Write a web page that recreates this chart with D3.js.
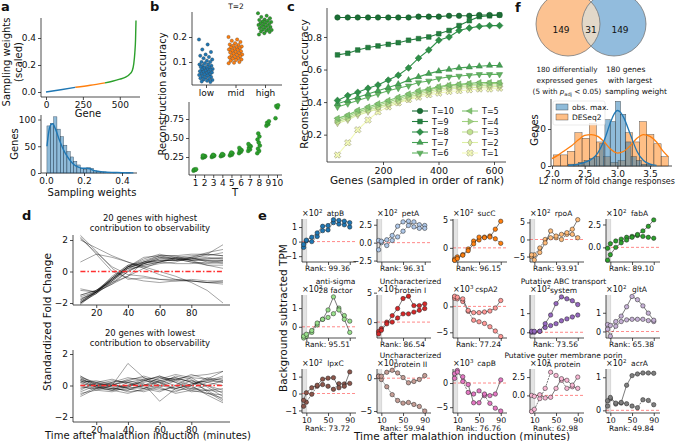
<!DOCTYPE html>
<html>
<head>
<meta charset="utf-8">
<script src="https://cdn.jsdelivr.net/npm/d3@7"></script>
<style>
body { margin: 0; background: #fff; }
svg { font-family: "DejaVu Sans", sans-serif; }
</style>
</head>
<body>
<svg id="fig" width="681" height="441"></svg>
<script>
// ---------- data: panel a ----------
var aGene = [0, 100, 200, 300, 400, 450, 500, 540, 565, 585, 595, 602, 607, 610];
var aWeight = [0, 0.017, 0.035, 0.05, 0.068, 0.08, 0.095, 0.11, 0.13, 0.16, 0.21, 0.29, 0.39, 0.53];
var aBinStart = 0.005, aBinW = 0.0175;
var aHist = [88, 92, 105, 82, 68, 52, 40, 30, 22, 15, 9, 7, 10, 9, 4, 3, 2, 2, 1, 1, 1, 0, 1, 0, 1];
var aKdeX = [0.005, 0.015, 0.025, 0.035, 0.05, 0.07, 0.09, 0.11, 0.13, 0.15, 0.17, 0.19, 0.21, 0.23, 0.25, 0.28, 0.32, 0.36, 0.40, 0.46];
var aKdeY = [50, 78, 90, 92, 82, 62, 45, 32, 22, 15, 11, 9, 9, 8, 5, 3, 1.5, 1, 0.5, 0.3];

// ---------- data: panel b ----------
var bCats = ["low", "mid", "high"];
var bLow = [0.19, 0.17, 0.15, 0.14, 0.13, 0.125, 0.12, 0.115, 0.11, 0.105, 0.10, 0.10, 0.095, 0.09, 0.09, 0.085, 0.085, 0.08, 0.08, 0.078, 0.075, 0.072, 0.07, 0.07, 0.068, 0.065, 0.063, 0.06, 0.06, 0.058, 0.055, 0.053, 0.05, 0.05, 0.048, 0.045, 0.042, 0.04, 0.038, 0.035, 0.032, 0.03, 0.028, 0.025, 0.022, 0.02];
var bMid = [0.20, 0.19, 0.185, 0.18, 0.175, 0.17, 0.168, 0.165, 0.162, 0.16, 0.158, 0.155, 0.152, 0.15, 0.148, 0.145, 0.143, 0.14, 0.138, 0.135, 0.133, 0.13, 0.128, 0.125, 0.123, 0.12, 0.118, 0.115, 0.113, 0.11, 0.108, 0.105, 0.10, 0.097, 0.095];
var bHigh = [0.295, 0.285, 0.28, 0.275, 0.27, 0.268, 0.265, 0.262, 0.26, 0.258, 0.255, 0.252, 0.25, 0.248, 0.245, 0.243, 0.24, 0.238, 0.235, 0.232, 0.23, 0.228, 0.225, 0.222, 0.22, 0.215, 0.21];
var bT = [1, 2, 3, 4, 5, 6, 7, 8, 9, 10];
var bAcc = [
  [0.07, 0.08, 0.085, 0.09],
  [0.24, 0.25, 0.255, 0.26, 0.265, 0.27],
  [0.25, 0.26, 0.265, 0.27, 0.28],
  [0.26, 0.27, 0.275, 0.28, 0.29],
  [0.27, 0.28, 0.29, 0.30, 0.31],
  [0.30, 0.32, 0.33, 0.34, 0.35, 0.37],
  [0.33, 0.35, 0.37, 0.39, 0.40, 0.42],
  [0.30, 0.33, 0.36, 0.40, 0.44, 0.48, 0.52, 0.56],
  [0.66, 0.68, 0.70, 0.72],
  [0.76, 0.90, 0.92, 0.93]
];

// ---------- data: panel c ----------
var cGenes = [36, 73, 109, 146, 182, 219, 255, 292, 328, 365, 401, 438, 474, 511, 547, 584, 620];
var cT10 = [0.92, 0.92, 0.92, 0.92, 0.92, 0.92, 0.92, 0.92, 0.925, 0.925, 0.925, 0.93, 0.93, 0.93, 0.935, 0.935, 0.935];
var cT9 = [0.69, 0.70, 0.72, 0.735, 0.745, 0.755, 0.765, 0.78, 0.79, 0.80, 0.82, 0.84, 0.87, 0.90, 0.925, 0.93, 0.935];
var cT8 = [0.41, 0.44, 0.46, 0.485, 0.505, 0.535, 0.565, 0.61, 0.67, 0.72, 0.78, 0.80, 0.84, 0.855, 0.865, 0.87, 0.87];
var cT7 = [0.39, 0.41, 0.43, 0.45, 0.47, 0.49, 0.51, 0.535, 0.555, 0.575, 0.59, 0.60, 0.61, 0.615, 0.62, 0.625, 0.625];
var cT6 = [0.37, 0.39, 0.41, 0.43, 0.45, 0.47, 0.485, 0.50, 0.52, 0.53, 0.545, 0.555, 0.56, 0.565, 0.57, 0.57, 0.57];
var cT5 = [0.30, 0.32, 0.35, 0.37, 0.39, 0.41, 0.43, 0.45, 0.47, 0.48, 0.495, 0.505, 0.51, 0.515, 0.52, 0.52, 0.52];
var cT4 = [0.29, 0.31, 0.34, 0.36, 0.38, 0.40, 0.42, 0.44, 0.46, 0.475, 0.49, 0.50, 0.505, 0.51, 0.51, 0.515, 0.515];
var cT3 = [0.28, 0.30, 0.33, 0.35, 0.37, 0.39, 0.41, 0.43, 0.45, 0.465, 0.48, 0.49, 0.495, 0.50, 0.50, 0.505, 0.505];
var cT2 = [0.27, 0.29, 0.32, 0.34, 0.36, 0.38, 0.40, 0.42, 0.44, 0.455, 0.47, 0.48, 0.485, 0.49, 0.49, 0.495, 0.495];
var cT1 = [0.075, 0.15, 0.23, 0.29, 0.34, 0.37, 0.395, 0.415, 0.43, 0.445, 0.455, 0.465, 0.47, 0.475, 0.48, 0.48, 0.485];
var cLabels = ["T=10", "T=9", "T=8", "T=7", "T=6", "T=5", "T=4", "T=3", "T=2", "T=1"];

// ---------- data: panel d ----------
var dTimes = [10, 20, 30, 40, 50, 60, 70, 80, 90, 100];
var dHigh = [
  [-2.0, -1.3, -0.4, 0.3, 0.5, 0.7, 0.7, 0.8, 0.8, 0.8],
  [-1.9, -1.3, -0.5, 0.2, 0.6, 0.9, 0.8, 0.7, 0.7, 0.6],
  [-2.0, -1.4, -0.6, 0.1, 0.4, 0.6, 0.8, 0.9, 1.0, 1.2],
  [-1.8, -1.2, -0.4, 0.3, 0.7, 1.0, 0.8, 0.6, 0.5, 0.6],
  [-2.1, -1.3, -0.3, 0.4, 0.6, 0.7, 0.7, 0.8, 0.9, 0.8],
  [-1.7, -1.4, -0.7, 0.0, 0.5, 0.8, 0.9, 0.8, 0.7, 0.7],
  [-2.0, -1.2, -0.5, 0.3, 0.8, 1.1, 0.9, 0.7, 0.8, 0.9],
  [-1.6, -1.3, -0.6, 0.2, 0.6, 0.6, 0.8, 0.9, 1.2, 1.4],
  [-2.0, -1.4, -0.4, 0.4, 0.5, 0.8, 0.7, 0.8, 1.1, 1.7],
  [-1.9, -1.3, -0.5, 0.2, 0.3, 0.5, 0.6, 0.9, 0.6, 0.5],
  [-1.2, -1.3, -0.8, 0.0, 0.5, 0.9, 0.8, 0.6, 0.4, 0.4],
  [-1.5, -1.2, -0.6, 0.3, 0.9, 1.0, 1.0, 0.7, 0.4, 0.2],
  [-1.8, -1.3, -0.5, 0.3, 0.4, 0.6, 0.9, 1.0, 1.1, 1.0],
  [-1.1, -1.3, -0.8, -0.3, 0.2, 0.6, 0.5, 0.5, 0.6, 0.7],
  [2.3, 1.3, 0.2, -0.5, -0.4, -0.5, -0.5, -0.6, -0.7, -0.7],
  [2.2, 1.1, 0.0, -0.4, -0.6, -0.7, -0.6, -0.5, -0.6, -0.6],
  [2.0, 1.5, 1.0, 0.6, 0.3, 0.0, -0.3, -0.7, -1.2, -2.0],
  [0.6, 1.1, 0.9, 0.6, 0.2, -0.2, -0.5, -0.6, -0.7, -0.8],
  [2.1, 1.2, 0.3, -0.2, -0.3, -0.5, -0.6, -0.6, -0.7, -0.6],
  [-1.5, -1.2, -0.7, -0.3, 0.6, 1.0, 1.0, 1.1, 1.1, 1.0]
];
var dLow = [
  [0.6, 0.1, 0.0, 1.4, 0.5, 0.0, -0.2, 0.1, 0.3, 0.2],
  [0.4, 0.0, -0.2, -0.3, 0.1, -1.0, -0.2, 0.0, 0.5, 0.3],
  [-0.7, -0.2, 0.1, 0.2, 0.0, 0.3, 0.5, 0.2, -0.3, -0.9],
  [0.3, -0.1, -0.2, -0.3, 0.0, 0.2, 0.4, 0.3, 0.0, -0.5],
  [0.5, 0.2, 0.0, -0.1, -0.2, 0.1, 0.6, 0.4, -0.4, -1.0],
  [-0.4, 0.0, 0.2, 0.3, 0.1, -0.2, -0.4, 0.0, 0.4, 0.9],
  [0.2, -0.2, -0.3, 0.0, 0.4, 0.5, 0.2, -0.3, -0.5, -0.6],
  [-0.2, 0.1, 0.3, 0.2, -0.2, -0.4, 0.0, 0.5, 0.4, 0.4],
  [0.6, 0.0, -0.2, -0.1, 0.3, 0.6, 0.3, -0.1, -0.5, -0.8],
  [-0.5, -0.3, 0.0, 0.4, 0.5, 0.2, -0.2, 0.1, 0.3, 0.6],
  [0.1, 0.0, 0.1, -0.2, -0.4, -0.1, 0.3, 0.7, 0.4, 0.2],
  [0.3, -0.1, -0.3, -0.5, -0.2, 0.3, 0.5, 0.2, 0.0, -0.3],
  [-0.3, 0.2, 0.4, 0.1, -0.1, -0.3, -0.1, 0.3, 0.2, 0.0],
  [0.4, 0.1, -0.1, 0.0, 0.2, 0.4, 0.7, 0.5, -0.1, -0.7],
  [-0.1, -0.2, 0.0, 0.3, 0.6, 0.3, 0.0, -0.4, -0.3, -0.2],
  [0.2, 0.3, 0.1, -0.2, 0.0, 0.5, 0.4, 0.0, -0.6, -1.1],
  [0.0, -0.3, -0.4, -0.1, 0.3, 0.2, -0.3, -0.2, 0.2, 0.5],
  [0.5, -0.1, -0.3, 0.2, 0.4, -0.1, -0.5, -0.3, 0.0, 0.3],
  [-0.6, -0.1, 0.2, 0.5, 0.3, 0.6, 0.2, -0.2, -0.3, -0.4],
  [0.3, 0.2, -0.1, -0.4, -0.3, 0.0, 0.4, 0.6, 0.7, 0.9]
];

// ---------- data: panel e ----------
var eTimes = [5, 10, 20, 30, 40, 50, 60, 70, 80, 90];
var eTitles = [["atpB"], ["petA"], ["sucC"], ["rpoA"], ["fabA"],
  ["anti-sigma", "28 factor"], ["Uncharacterized", "protein I"], ["cspA2"], ["Putative ABC transport", "system"], ["gltA"],
  ["lpxC"], ["Uncharacterized", "protein II"], ["capB"], ["Putative outer membrane porin", "A protein"], ["acrA"]];
var eRanks = ["99.36", "96.31", "96.15", "93.91", "89.10", "95.51", "86.54", "77.24", "73.56", "65.38", "73.72", "59.94", "76.76", "62.98", "49.84"];
var eExp = [2, 2, 2, 2, 2, 2, 2, 3, 2, 2, 2, 3, 3, 2, 2];
var eTicks = [[-1, 0, 1], [-2.5, 0, 2.5], [0, 5], [-5, 0, 5], [0, 2.5],
  [0, 1], [0, 5], [-5, 0], [0, 1], [0, 1],
  [-1, 0, 1], [-5, 0], [-5, 0], [0, 2.5], [0, 1]];
var eFmt = ["d", ".1f", "d", "d", ".1f", "d", "d", "d", "d", "d", "d", "d", "d", ".1f", "d"];
var eYlim = [[-1.4, 1.55], [-2.7, 3.3], [-2.5, 5.1], [-6.6, 6.0], [-1.6, 3.1],
  [-0.6, 1.7], [-2.7, 4.6], [-6.1, 2.2], [-0.3, 1.95], [-0.35, 1.95],
  [-1.15, 1.45], [-5.3, 1.4], [-6.2, 2.9], [-2.4, 3.6], [-0.08, 1.25]];
var eRepA = [
  [-0.2, 0.1, 0.3, 0.6, 1.05, 1.1, 1.5, 1.45, 1.4, 1.3],
  [-1.0, 0.2, 0.4, 1.0, 2.3, 2.9, 3.0, 2.2, 2.0, 2.0],
  [-2.2, -1.9, -1.3, -0.5, 0.7, 1.9, 1.8, 1.9, 3.3, 4.7],
  [-4.5, -6.0, -3.8, -1.0, 2.5, 1.0, 1.5, 2.0, 3.0, 5.8],
  [-1.4, -0.8, 0.0, 0.5, 0.8, 1.1, 1.4, 1.8, 2.3, 3.0],
  [-0.5, -0.4, -0.2, 0.2, 0.4, 0.9, 1.6, 0.9, 0.4, -0.3],
  [-2.0, -1.4, -0.3, 1.1, 2.3, 4.0, 4.4, 2.8, 2.8, 3.1],
  [1.96, 1.77, 1.46, -0.76, -1.2, -1.2, -1.08, -0.89, -0.32, 1.14],
  [0.05, 0.05, 0.05, 0.45, 0.9, 1.5, 1.85, 1.75, 1.65, 1.45],
  [0.37, 0.32, 0.53, 0.82, 1.32, 1.87, 1.7, 1.37, 0.98, 0.6],
  [-0.4, 0.05, 0.34, 0.49, 0.85, 0.91, 0.94, 0.34, 0.43, 1.28],
  [0.3, 0.3, 0.9, 1.2, 0.8, 0.1, -0.7, -0.5, -0.2, 0.4],
  [1.95, 2.27, 1.3, -0.32, -4.08, -4.08, -2.27, -2.6, -2.27, 0.65],
  [0.0, -0.13, 0.09, -0.35, -0.26, 0.96, 2.28, 2.06, 1.4, 2.5],
  [0.29, 0.39, 0.22, 0.24, 0.76, 1.05, 1.1, 1.13, 1.13, 1.12]
];
var eRepB = [
  [-0.4, 0.05, 0.0, 0.35, 0.75, 0.8, 1.3, 1.2, 1.15, 1.0],
  [0.3, 0.0, -0.4, 0.3, 0.8, 1.6, 2.4, 2.9, 2.5, 2.4],
  [-2.0, -1.6, -1.2, -0.2, 1.2, 1.4, 1.9, 2.1, 1.6, 0.8],
  [-5.0, -4.5, -2.5, 0.0, 0.5, 0.5, 0.0, 1.5, 1.5, 0.5],
  [-0.1, 0.4, 0.7, 0.9, 1.1, 1.2, 1.3, 1.2, 1.1, 1.0],
  [-0.6, -0.5, -0.3, 0.1, 0.4, 0.5, 0.7, 1.0, 0.6, 0.3],
  [-1.6, -1.1, 0.0, 0.0, 0.7, 1.4, 1.4, 1.7, 2.0, 2.3],
  [1.58, 1.46, 0.95, -0.95, -2.66, -2.97, -3.29, -3.92, -4.75, -5.82],
  [0.0, 0.0, 0.05, 0.25, 0.35, 0.45, 0.6, 0.7, 0.8, 0.9],
  [0.12, -0.25, 0.28, 0.53, 0.62, 0.65, 0.65, 0.65, 0.58, 0.53],
  [-0.75, -0.51, -0.04, 0.43, 0.53, 0.43, 0.25, 0.58, 0.57, 0.6],
  [0.3, -0.2, -1.3, -2.5, -3.4, -3.8, -3.7, -4.0, -4.3, -5.0],
  [0.97, 2.6, 0.32, -1.95, -2.27, -1.62, -2.6, -4.2, -5.2, -5.8],
  [-2.2, -1.9, -0.44, 0.96, 3.16, 2.72, 2.06, 0.96, 1.18, 0.96],
  [0.13, 0.35, 0.19, 0.22, 0.2, 0.13, 0.08, 0.32, 0.3, 0.17]
];
var eColors = ["#1f77b4", "#aec7e8", "#ff7f0e", "#ffbb78", "#2ca02c", "#98df8a", "#d62728", "#ff9896",
  "#9467bd", "#c5b0d5", "#8c564b", "#c49c94", "#e377c2", "#f7b6d2", "#7f7f7f"];

// ---------- data: panel f ----------
var fVenn = [149, 31, 149];
var fDeseqStart = 2.02, fDeseqW = 0.11;
var fDeseq = [6, 6, 8, 18, 15, 23, 13, 5, 2, 3, 18, 13, 24, 17, 12, 5];
var fObsStart = 2.25, fObsW = 0.08;
var fObs = [1, 1, 2, 3, 4, 5, 12, 25, 24, 35, 28, 13, 5, 3, 1, 1];
var fKdeDX = [2.0, 2.1, 2.2, 2.3, 2.4, 2.5, 2.6, 2.7, 2.8, 2.9, 3.0, 3.1, 3.2, 3.3, 3.4, 3.5, 3.6, 3.7, 3.78];
var fKdeD = [4, 6, 8.5, 11, 14, 16.5, 17, 16, 13, 9, 7, 8, 11, 15, 17, 16, 13, 8, 5];
var fKdeOX = [2.25, 2.4, 2.5, 2.6, 2.7, 2.8, 2.9, 2.95, 3.0, 3.05, 3.1, 3.2, 3.3, 3.4, 3.5, 3.6];
var fKdeO = [0.3, 1, 2, 3.5, 7, 14, 24, 28, 30, 29, 26, 17, 8, 3, 1, 0.3];

// ---------- helpers ----------
var svg = d3.select("#fig");
var INK = "#111";

function text(x, y, s, size, o) {
  o = o || {};
  var t = svg.append("text").attr("x", x).attr("y", y).attr("font-size", size)
    .attr("text-anchor", o.anchor || "middle").attr("fill", INK).text(s);
  if (o.rot) t.attr("transform", "rotate(" + o.rot + "," + x + "," + y + ")");
  if (o.bold) t.attr("font-weight", "bold");
  return t;
}
function spines(x0, x1, y0, y1) {
  svg.append("path").attr("d", "M" + x0 + "," + y0 + "V" + y1 + "H" + x1)
    .attr("fill", "none").attr("stroke", "#222").attr("stroke-width", 0.8);
}
function axis(orient, scale, pos, vals, fmt, size, labels) {
  var ax = orient === "left" ? d3.axisLeft(scale) : d3.axisBottom(scale);
  ax.tickValues(vals).tickSize(3).tickPadding(2);
  if (fmt) ax.tickFormat(typeof fmt === "string" ? d3.format(fmt) : fmt);
  if (labels === false) ax.tickFormat("");
  var g = svg.append("g")
    .attr("transform", orient === "left" ? "translate(" + pos + ",0)" : "translate(0," + pos + ")")
    .call(ax).attr("font-family", null).attr("font-size", size || 9);
  g.select(".domain").remove();
  g.selectAll(".tick line").attr("stroke", "#222").attr("stroke-width", 0.8);
  g.selectAll(".tick text").attr("fill", INK);
  return g;
}
function poly(n, r, a0) {
  var p = [];
  for (var i = 0; i < n; i++) {
    var a = a0 + i * 2 * Math.PI / n;
    p.push([(r * Math.cos(a)).toFixed(2), (r * Math.sin(a)).toFixed(2)]);
  }
  return "M" + p.join("L") + "Z";
}
var UP = -Math.PI / 2;
var markerPaths = [
  d3.symbol(d3.symbolCircle, 24)(),
  poly(4, 3.3, Math.PI / 4),
  poly(4, 3.4, UP),
  poly(3, 3.6, UP),
  poly(3, 3.6, Math.PI / 2),
  poly(3, 3.6, Math.PI),
  poly(3, 3.6, 0),
  poly(6, 3.1, UP),
  "M0,-3.5L2,0L0,3.5L-2,0Z",
  d3.symbol(d3.symbolCross, 26)()
];

// ---------- panel labels ----------
[["a", 1, 11], ["b", 150, 11], ["c", 287, 11], ["f", 515, 12], ["d", 22, 220], ["e", 258, 220]].forEach(function (p) {
  text(p[1], p[2], p[0], 13, { anchor: "start", bold: true });
});

// ---------- panel a ----------
(function () {
  var x = d3.scaleLinear().domain([0, 610]).range([46, 136]);
  var y = d3.scaleLinear().domain([0, 0.4]).range([92, 38]);
  spines(41, 140, 18, 97);
  axis("left", y, 41, [0, 0.2, 0.4], ".1f");
  axis("bottom", x, 97, [0, 250, 500], "d");
  var line = d3.line().x(function (d) { return x(d[0]); }).y(function (d) { return y(d[1]); }).curve(d3.curveMonotoneX);
  var pts = aGene.map(function (g, i) { return [g, aWeight[i]]; });
  [[0, 200, "#1f77b4"], [200, 400, "#ff7f0e"], [400, 610, "#2ca02c"]].forEach(function (s) {
    svg.append("path").attr("d", line(pts.filter(function (p) { return p[0] >= s[0] && p[0] <= s[1]; })))
      .attr("fill", "none").attr("stroke", s[2]).attr("stroke-width", 1.4);
  });
  text(6, 62, "Sampling weights", 10, { rot: -90 }).attr("dy", "0.35em");
  text(18, 62, "(scaled)", 10, { rot: -90 }).attr("dy", "0.35em");
  text(88, 117, "Gene", 10);

  var hx = d3.scaleLinear().domain([0, 0.4]).range([46, 122]);
  var hy = d3.scaleLinear().domain([0, 100]).range([173, 119.5]);
  spines(41, 137, 115, 173);
  svg.append("g").selectAll("rect").data(aHist).join("rect")
    .attr("x", function (d, i) { return hx(aBinStart + i * aBinW); })
    .attr("width", hx(aBinW) - hx(0))
    .attr("y", function (d) { return hy(d); })
    .attr("height", function (d) { return hy(0) - hy(d); })
    .attr("fill", "rgba(31,119,180,0.5)").attr("stroke", "#2b3f52").attr("stroke-width", 0.4);
  svg.append("path").attr("d", d3.line().x(function (d, i) { return hx(aKdeX[i]); }).y(function (d) { return hy(d); })
    .curve(d3.curveMonotoneX)(aKdeY)).attr("fill", "none").attr("stroke", "#1f77b4").attr("stroke-width", 1.4);
  axis("left", hy, 41, [0, 50, 100], "d");
  axis("bottom", hx, 173, [0, 0.2, 0.4], ".1f");
  text(14, 144, "Genes", 10, { rot: -90 }).attr("dy", "0.35em");
  text(92, 196, "Sampling weights", 10);
})();

// ---------- panel b ----------
(function () {
  var x = d3.scalePoint().domain(bCats).range([206, 265]);
  var y = d3.scaleLinear().domain([0.1, 0.2]).range([62, 37]);
  spines(192, 282, 12, 85);
  var cols = ["#1f77b4", "#ff7f0e", "#2ca02c"];
  [bLow, bMid, bHigh].forEach(function (arr, k) {
    svg.append("g").selectAll("circle").data(arr).join("circle")
      .attr("cx", function (d, i) { return x(bCats[k]) + (((i * 0.618034) % 1) - 0.5) * 14; })
      .attr("cy", function (d) { return y(d); }).attr("r", 1.7)
      .attr("fill", cols[k]).attr("stroke", "#333").attr("stroke-width", 0.3);
  });
  axis("left", y, 192, [0.1, 0.2], ".1f");
  axis("bottom", x, 85, bCats, null);
  text(236, 9, "T=2", 7.5);

  var bx = d3.scaleLinear().domain([1, 10]).range([195, 277]);
  var by = d3.scaleLinear().domain([0.25, 0.75]).range([157, 119]);
  spines(189, 282, 102, 175);
  bAcc.forEach(function (arr, k) {
    svg.append("g").selectAll("circle").data(arr).join("circle")
      .attr("cx", function (d, i) { return bx(bT[k]) + (((i * 0.618034) % 1) - 0.5) * 3; })
      .attr("cy", function (d) { return by(d); }).attr("r", 2)
      .attr("fill", "#2ca02c").attr("stroke", "#1d5e1d").attr("stroke-width", 0.3);
  });
  axis("left", by, 189, [0.25, 0.5, 0.75], ".2f");
  axis("bottom", bx, 175, bT, "d");
  text(235, 196, "T", 10);
  text(162, 94, "Reconstruction accuracy", 10, { rot: -90 }).attr("dy", "0.35em");
})();

// ---------- panel c ----------
(function () {
  var x = d3.scaleLinear().domain([0, 600]).range([327.5, 494]);
  var y = d3.scaleLinear().domain([0.032, 0.978]).range([162, 8]);
  spines(327, 506, 8, 162);
  var series = [cT10, cT9, cT8, cT7, cT6, cT5, cT4, cT3, cT2, cT1];
  var cols = ["#1b6e35", "#237f3e", "#2e9048", "#45a254", "#60b460", "#7fc46e", "#a0d380", "#c0e291", "#dbefa2", "#f2f9b7"];
  var line = d3.line().x(function (d, i) { return x(cGenes[i]); }).y(function (d) { return y(d); });
  for (var k = series.length - 1; k >= 0; k--) {
    var c = cols[k], edge = d3.color(c).darker(0.7).formatHex();
    svg.append("path").attr("d", line(series[k])).attr("fill", "none").attr("stroke", c).attr("stroke-width", 1.1);
    svg.append("g").selectAll("path").data(series[k]).join("path")
      .attr("d", markerPaths[k])
      .attr("transform", function (d, i) { return "translate(" + x(cGenes[i]) + "," + y(d) + ")" + (k === 9 ? " rotate(45)" : ""); })
      .attr("fill", c).attr("stroke", k > 6 ? "#8a8a6a" : edge).attr("stroke-width", 0.5);
  }
  axis("left", y, 327, [0.2, 0.4, 0.6, 0.8], ".1f", 9.5);
  axis("bottom", x, 162, [200, 400, 600], "d", 9.5);
  text(304, 84, "Reconstruction accuracy", 10.5, { rot: -90 }).attr("dy", "0.35em");
  text(417, 184, "Genes (sampled in order of rank)", 10.5);
  cLabels.forEach(function (lab, k) {
    var col = Math.floor(k / 5), row = k % 5;
    var lx = col ? 462 : 412, ly = 111 + row * 10.5;
    var c = cols[k];
    svg.append("line").attr("x1", lx).attr("x2", lx + 16).attr("y1", ly).attr("y2", ly).attr("stroke", c).attr("stroke-width", 1.1);
    svg.append("path").attr("d", markerPaths[k])
      .attr("transform", "translate(" + (lx + 8) + "," + ly + ")" + (k === 9 ? " rotate(45)" : ""))
      .attr("fill", c).attr("stroke", k > 6 ? "#8a8a6a" : d3.color(c).darker(0.7).formatHex()).attr("stroke-width", 0.5);
    text(lx + 20, ly + 3, lab, 8, { anchor: "start" });
  });
})();

// ---------- panel d ----------
(function () {
  var x = d3.scaleLinear().domain([10, 100]).range([80.4, 223]);
  var panels = [[dHigh, 235, 305, ["20 genes with highest", "contribution to observability"]],
                [dLow, 350, 422, ["20 genes with lowest", "contribution to observability"]]];
  panels.forEach(function (p, k) {
    var y = d3.scaleLinear().domain([-2, 2]).range(k ? [417, 354] : [303, 240]);
    spines(73, 230, p[1], p[2]);
    var line = d3.line().x(function (d, i) { return x(dTimes[i]); }).y(function (d) { return y(d); });
    svg.append("g").selectAll("path").data(p[0]).join("path").attr("d", line)
      .attr("fill", "none").attr("stroke", "rgba(0,0,0,0.6)").attr("stroke-width", 0.6);
    svg.append("line").attr("x1", x(10)).attr("x2", x(100)).attr("y1", y(0)).attr("y2", y(0))
      .attr("stroke", "#ff3030").attr("stroke-width", 1.4).attr("stroke-dasharray", "5,2,1.5,2");
    axis("left", y, 73, [-2, 0, 2], "d");
    axis("bottom", x, p[2], [20, 40, 60, 80], "d");
    text(150, p[1] - 14, p[3][0], 8.5);
    text(150, p[1] - 4, p[3][1], 8.5);
  });
  text(47, 322, "Standardized Fold Change", 10.5, { rot: -90 }).attr("dy", "0.35em");
  text(148, 439, "Time after malathion induction (minutes)", 10);
})();

// ---------- panel e ----------
(function () {
  var lefts = [302, 377, 453, 530, 606], tops = [219, 295, 369], bots = [262, 338, 413], W = 51;
  var x = d3.scaleLinear().domain([2, 96]).range([0, W]);
  eTitles.forEach(function (title, k) {
    var r = Math.floor(k / 5), c = k % 5;
    var L = lefts[c], T = tops[r], B = bots[r];
    var xs = function (t) { return L + x(t); };
    var y = d3.scaleLinear().domain(eYlim[k]).range([B, T]);
    svg.append("rect").attr("x", L).attr("y", T).attr("width", x(10.5)).attr("height", B - T).attr("fill", "#e3e3e3");
    svg.append("line").attr("x1", xs(10.5)).attr("x2", xs(10.5)).attr("y1", T).attr("y2", B).attr("stroke", "#c8c8c8").attr("stroke-width", 0.6);
    svg.append("line").attr("x1", L).attr("x2", L + W + 3).attr("y1", y(0)).attr("y2", y(0))
      .attr("stroke", "#ff5c5c").attr("stroke-width", 0.9).attr("stroke-dasharray", "3,2").attr("opacity", 0.8);
    spines(L, L + W + 3, T, B);
    var line = d3.line().x(function (d, i) { return xs(eTimes[i]); }).y(function (d) { return y(d); });
    [eRepB[k], eRepA[k]].forEach(function (s, j) {
      svg.append("path").attr("d", line(s)).attr("fill", "none").attr("stroke", "#222").attr("stroke-width", 0.6)
        .attr("stroke-dasharray", j ? null : "2,1");
      svg.append("g").selectAll("circle").data(s).join("circle")
        .attr("cx", function (d, i) { return xs(eTimes[i]); }).attr("cy", function (d) { return y(d); })
        .attr("r", 2.2).attr("fill", eColors[k]).attr("stroke", "#222").attr("stroke-width", 0.5);
    });
    axis("left", y, L, eTicks[k], eFmt[k], 8);
    axis("bottom", d3.scaleLinear().domain([2, 96]).range([L, L + W]), B, [10, 50, 90], "d", 7.8, r === 2)
      .selectAll(".tick text").attr("dy", "0.62em");
    var mid = L + W / 2 + 8;
    if (title.length === 1) {
      text(mid, T - 3, title[0], 7.5);
    } else {
      text(mid, T - 11, title[0], 7.5);
      text(mid, T - 2.5, title[1], 7.5);
    }
    var off = text(L, T - 3, "\u00d710", 8, { anchor: "start" });
    off.append("tspan").attr("dy", -3.5).attr("font-size", 5.5).text(eExp[k]);
    text(L + W / 2, B + (r === 2 ? 18 : 9), "Rank: " + eRanks[k], 7.5);
  });
  text(283, 318, "Background subtracted TPM", 10.5, { rot: -90 }).attr("dy", "0.35em");
  text(462, 440, "Time after malathion induction (minutes)", 10.5);
})();

// ---------- panel f ----------
(function () {
  var cy = 24, r = 32, c1 = 568, c2 = 614;
  svg.append("defs").append("clipPath").attr("id", "clipL")
    .append("circle").attr("cx", c1).attr("cy", cy).attr("r", r);
  svg.append("circle").attr("cx", c1).attr("cy", cy).attr("r", r).attr("fill", "#fcc291");
  svg.append("circle").attr("cx", c2).attr("cy", cy).attr("r", r).attr("fill", "#92bcdd");
  svg.append("circle").attr("cx", c2).attr("cy", cy).attr("r", r).attr("fill", "#e2d8c9").attr("clip-path", "url(#clipL)");
  [c1, c2].forEach(function (c) {
    svg.append("circle").attr("cx", c).attr("cy", cy).attr("r", r).attr("fill", "none").attr("stroke", "#777").attr("stroke-width", 0.8);
  });
  text(561, 33, fVenn[0], 9);
  text(591, 33, fVenn[1], 9);
  text(620, 33, fVenn[2], 9);
  text(567, 72, "180 differentially", 7.2);
  text(567, 83, "expressed genes", 7.2);
  var t = text(567, 94, "(5 with ", 7.2);
  t.append("tspan").attr("font-style", "italic").text("p");
  t.append("tspan").attr("dy", 2).attr("font-size", 5).text("adj");
  t.append("tspan").attr("dy", -2).text(" < 0.05)");
  text(606, 72, "180 genes", 7.5, { anchor: "start" });
  text(608, 83, "with largest", 7.5, { anchor: "start" });
  text(605, 94, "sampling weight", 7.5, { anchor: "start" });

  var x = d3.scaleLinear().domain([2.0, 3.5]).range([552, 650]);
  var y = d3.scaleLinear().domain([0, 20]).range([166, 129]);
  spines(551, 672, 99, 166);
  function bars(arr, start, w, fill) {
    svg.append("g").selectAll("rect").data(arr).join("rect")
      .attr("x", function (d, i) { return x(start + i * w); }).attr("width", x(w) - x(0))
      .attr("y", function (d) { return y(d); }).attr("height", function (d) { return y(0) - y(d); })
      .attr("fill", fill).attr("stroke", "#3a3a3a").attr("stroke-width", 0.4);
  }
  bars(fDeseq, fDeseqStart, fDeseqW, "rgba(255,127,14,0.5)");
  bars(fObs, fObsStart, fObsW, "rgba(31,119,180,0.5)");
  function kde(xs, ys, col) {
    svg.append("path").attr("d", d3.line().x(function (d, i) { return x(xs[i]); }).y(function (d) { return y(d); })
      .curve(d3.curveMonotoneX)(ys)).attr("fill", "none").attr("stroke", col).attr("stroke-width", 1.3);
  }
  kde(fKdeDX, fKdeD, "#ff7f0e");
  kde(fKdeOX, fKdeO, "#1f77b4");
  axis("left", y, 551, [0, 20], "d");
  axis("bottom", x, 166, [2.0, 2.5, 3.0, 3.5], ".1f");
  svg.append("rect").attr("x", 553).attr("y", 101).attr("width", 52).attr("height", 24).attr("rx", 2)
    .attr("fill", "rgba(255,255,255,0.8)").attr("stroke", "#ddd").attr("stroke-width", 0.6);
  [["obs. max.", "rgba(31,119,180,0.5)"], ["DESeq2", "rgba(255,127,14,0.5)"]].forEach(function (l, i) {
    svg.append("rect").attr("x", 556).attr("y", 104 + i * 10).attr("width", 12).attr("height", 6)
      .attr("fill", l[1]).attr("stroke", "#3a3a3a").attr("stroke-width", 0.4);
    text(572, 110 + i * 10, l[0], 7.5, { anchor: "start" });
  });
  text(534, 130, "Genes", 10, { rot: -90 }).attr("dy", "0.35em");
  text(607, 184, "L2 norm of fold change responses", 8);
})();
</script>
</body>
</html>
